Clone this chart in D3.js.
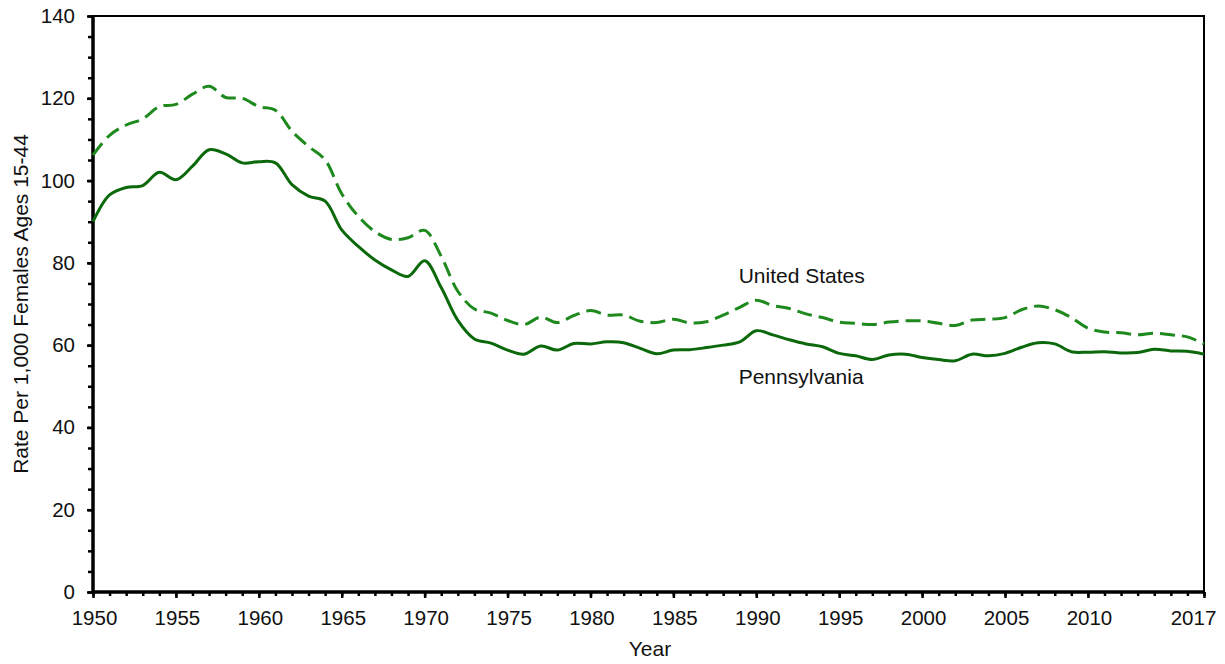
<!DOCTYPE html>
<html>
<head>
<meta charset="utf-8">
<script src="https://cdn.jsdelivr.net/npm/d3@7"></script>
<style>
  body { margin: 0; background: #fff; }
  text { font-family: "Liberation Sans", Arial, sans-serif; fill: #111; }
</style>
</head>
<body>
<svg width="1225" height="664"></svg>
<script>
// general fertility rate, per 1,000 females ages 15-44
var years = d3.range(1950, 2018);
var unitedStates = [106.2, 111.0, 113.5, 115.0, 118.0, 118.5, 121.0, 122.9, 120.2, 120.0,
  118.0, 117.1, 112.0, 108.3, 105.0, 96.8, 91.3, 87.6, 85.7, 86.1,
  87.9, 81.6, 73.1, 68.8, 67.8, 66.0, 65.0, 66.8, 65.5, 67.2,
  68.4, 67.3, 67.3, 65.8, 65.5, 66.3, 65.4, 65.7, 67.3, 69.2,
  70.9, 69.6, 68.9, 67.6, 66.7, 65.6, 65.3, 65.0, 65.6, 65.9,
  65.9, 65.3, 64.8, 66.1, 66.3, 66.7, 68.6, 69.5, 68.6, 66.7,
  64.1, 63.2, 63.0, 62.5, 62.9, 62.5, 62.0, 60.3];
var pennsylvania = [90.0, 96.5, 98.3, 98.8, 102.0, 100.2, 103.5, 107.5, 106.5, 104.3,
  104.6, 104.3, 99.0, 96.2, 95.0, 88.0, 84.0, 80.7, 78.3, 76.7,
  80.5, 74.0, 66.0, 61.5, 60.5, 58.8, 57.8, 59.8, 58.8, 60.4,
  60.3, 60.8, 60.6, 59.2, 57.9, 58.8, 58.9, 59.4, 60.0, 60.8,
  63.5, 62.5, 61.3, 60.3, 59.6, 58.0, 57.4, 56.5, 57.6, 57.8,
  57.0, 56.5, 56.2, 57.8, 57.4, 58.0, 59.5, 60.6, 60.3, 58.4,
  58.3, 58.4, 58.1, 58.2, 59.0, 58.6, 58.5, 57.8];
var xTickLabels = [1950, 1955, 1960, 1965, 1970, 1975, 1980, 1985, 1990, 1995, 2000, 2005, 2010, 2017];
var yTickLabels = [0, 20, 40, 60, 80, 100, 120, 140];

var svg = d3.select("svg"),
    margin = {top: 16, right: 21, bottom: 72, left: 93},
    width = +svg.attr("width") - margin.left - margin.right,
    height = +svg.attr("height") - margin.top - margin.bottom,
    g = svg.append("g").attr("transform", "translate(" + margin.left + "," + margin.top + ")");

var x = d3.scaleLinear().domain([1950, 2017]).range([0, width]);
var y = d3.scaleLinear().domain([0, 140]).range([height, 0]);

// minor ticks
g.append("g")
    .attr("transform", "translate(0," + height + ")")
    .call(d3.axisBottom(x).tickValues(years).tickSize(4).tickFormat(""))
    .call(function(a) { a.select(".domain").remove(); a.selectAll("line").attr("stroke-width", 2.5); });
g.append("g")
    .call(d3.axisLeft(y).tickValues(d3.range(0, 141, 5)).tickSize(5).tickFormat(""))
    .call(function(a) { a.select(".domain").remove(); a.selectAll("line").attr("stroke-width", 2.5); });

// major ticks + labels
var xAxis = g.append("g")
    .attr("transform", "translate(0," + height + ")")
    .call(d3.axisBottom(x).tickValues(xTickLabels).tickSize(6).tickPadding(12).tickFormat(d3.format("d")));
xAxis.select(".domain").remove();
xAxis.selectAll("line").attr("stroke-width", 2.5);
xAxis.selectAll("text").style("font-size", "20.5px")
    .attr("dx", function(d) { return d === 2017 ? -11 : 1; });

var yAxis = g.append("g")
    .call(d3.axisLeft(y).tickValues(yTickLabels).tickSize(6).tickPadding(12));
yAxis.select(".domain").remove();
yAxis.selectAll("line").attr("stroke-width", 2.5);
yAxis.selectAll("text").style("font-size", "20.5px");

// frame
g.append("rect")
    .attr("width", width).attr("height", height)
    .attr("fill", "none").attr("stroke", "#000").attr("stroke-width", 2);
g.append("line").attr("x1", 0).attr("x2", 0).attr("y1", 0).attr("y2", height)
    .attr("stroke", "#000").attr("stroke-width", 3.5);
g.append("line").attr("x1", 0).attr("x2", width).attr("y1", height).attr("y2", height)
    .attr("stroke", "#000").attr("stroke-width", 3.5);

var line = d3.line()
    .x(function(d, i) { return x(years[i]); })
    .y(function(d) { return y(d); })
    .curve(d3.curveCatmullRom.alpha(0.5));

g.append("path")
    .datum(unitedStates)
    .attr("fill", "none")
    .attr("stroke", "#1e8a1e")
    .attr("stroke-width", 3)
    .attr("stroke-dasharray", "15,7")
    .attr("d", line);

g.append("path")
    .datum(pennsylvania)
    .attr("fill", "none")
    .attr("stroke", "#0b690b")
    .attr("stroke-width", 3)
    .attr("d", line);

// series labels
g.append("text")
    .attr("x", x(1989) - 1).attr("y", 283 - margin.top)
    .style("font-size", "21px")
    .text("United States");
g.append("text")
    .attr("x", x(1989) - 1).attr("y", 384 - margin.top)
    .style("font-size", "21px")
    .text("Pennsylvania");

// axis titles
svg.append("text")
    .attr("x", 650).attr("y", 656)
    .attr("text-anchor", "middle")
    .style("font-size", "21px")
    .text("Year");
svg.append("text")
    .attr("transform", "translate(28," + (margin.top + height / 2) + ") rotate(-90)")
    .attr("text-anchor", "middle")
    .style("font-size", "21px")
    .text("Rate Per 1,000 Females Ages 15-44");
</script>
</body>
</html>
